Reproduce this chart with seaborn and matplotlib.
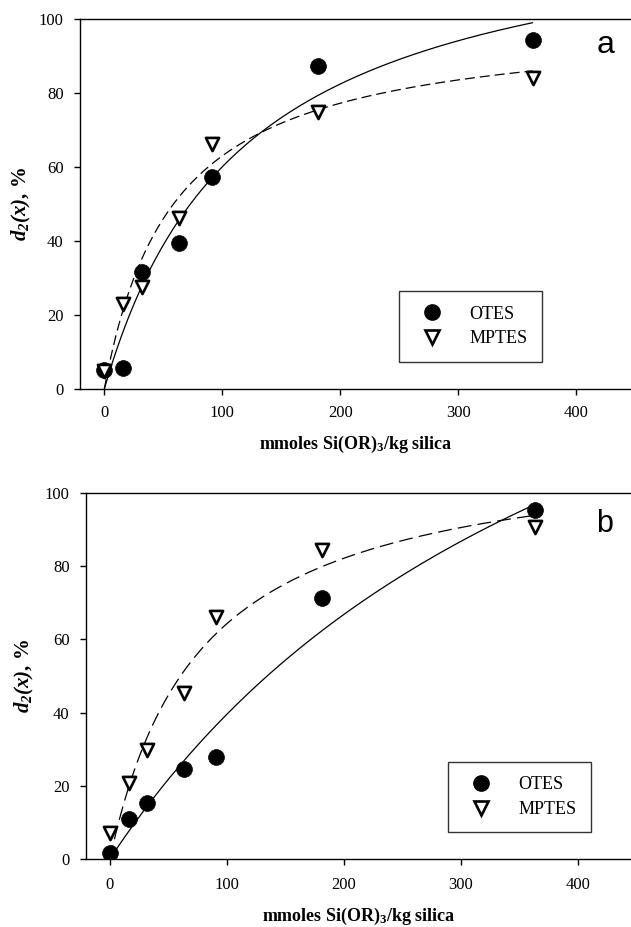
import numpy as np
import pandas as pd
import matplotlib
matplotlib.use("Agg")
import matplotlib.pyplot as plt
import seaborn as sns
from matplotlib.lines import Line2D

sns.set_theme(style="white")
plt.rcParams['font.family'] = ['Liberation Serif', 'DejaVu Serif']
plt.rcParams['mathtext.fontset'] = 'custom'
plt.rcParams['mathtext.rm'] = 'Liberation Serif'
plt.rcParams['mathtext.it'] = 'Liberation Serif:italic'
plt.rcParams['mathtext.bf'] = 'Liberation Serif:bold'
plt.rcParams['mathtext.bfit'] = 'Liberation Serif:italic:bold'
for k in ['text.color', 'axes.labelcolor', 'xtick.color', 'ytick.color', 'axes.edgecolor']:
    plt.rcParams[k] = 'black'

# ---- data ----
x_loading = [0, 16, 32, 63, 91, 181, 363]

a_otes = [5.1, 5.8, 31.5, 39.5, 57.2, 87.2, 94.3]
a_mptes = [4.9, 22.9, 27.6, 46.1, 66.2, 74.9, 84.0]
b_otes = [1.5, 10.9, 15.2, 24.5, 27.9, 71.3, 95.3]
b_mptes = [6.9, 20.6, 29.7, 45.3, 66.2, 84.6, 90.9]

# Langmuir-type fit parameters y = A*x/(B+x)
fit_a_otes = (131.4, 118.8)
fit_a_mptes = (99.8, 58.4)
fit_b_otes = (216.0, 446.0)
fit_b_mptes = (113.9, 77.0)

series_names = ["OTES", "MPTES"]
x_ticks = [0, 100, 200, 300, 400]
y_ticks = [0, 20, 40, 60, 80, 100]

fig = plt.figure(figsize=(6.31, 9.27), dpi=100)
ax1 = fig.add_axes([80/631, 1-389/927, 1-80/631, (389-19)/927])
ax2 = fig.add_axes([86/631, 1-858.7/927, 1-86/631, (858.7-493.3)/927])

def draw(ax, otes, mptes, fo, fm, xlim, label, label_pos, legend_anchor, dashes, pads):
    df = pd.DataFrame({"x": x_loading * 2,
                       "y": otes + mptes,
                       "s": [series_names[0]] * len(otes) + [series_names[1]] * len(mptes)})
    xc = np.linspace(0, max(x_loading), 300)
    curves = pd.DataFrame({"x": np.concatenate([xc, xc]),
                           "y": np.concatenate([fo[0]*xc/(fo[1]+xc), fm[0]*xc/(fm[1]+xc)]),
                           "s": [series_names[0]]*len(xc) + [series_names[1]]*len(xc)})
    sns.lineplot(data=curves[curves.s == "OTES"], x="x", y="y", color="black", lw=0.9, ax=ax, legend=False)
    sns.lineplot(data=curves[curves.s == "MPTES"], x="x", y="y", color="black", lw=0.9, ax=ax,
                 legend=False)
    ax.lines[-1].set_dashes(dashes)
    d1 = df[df.s == "OTES"]
    d2 = df[df.s == "MPTES"]
    sns.scatterplot(data=d1, x="x", y="y", marker="o", s=130, color="black", edgecolor="black",
                    linewidth=0.5, ax=ax, legend=False, zorder=5)
    sns.scatterplot(data=d2, x="x", y="y", marker="v", s=90, facecolor="white", edgecolor="black",
                    linewidth=1.9, ax=ax, legend=False, zorder=6)
    ax.set_xlim(*xlim)
    ax.set_ylim(0, 100)
    ax.set_xticks(x_ticks)
    ax.set_yticks(y_ticks)
    ax.spines["right"].set_visible(False)
    for s in ["left", "top", "bottom"]:
        ax.spines[s].set_color("black")
        ax.spines[s].set_linewidth(1.0)
    ax.tick_params(axis="both", which="both", direction="out", length=4.3, width=1, colors="black",
                   labelsize=12, left=True, bottom=True)
    ax.tick_params(axis="x", pad=pads[0])
    ax.tick_params(axis="y", pad=7.5)
    ax.set_xlabel(r"mmoles Si(OR)$_\mathbf{3}$/kg silica", fontsize=13, fontweight="bold",
                  labelpad=pads[1])
    ax.set_ylabel(r"$\mathbfit{d}_{\mathbfit{2}}\mathbfit{(x)}$, %", fontsize=15, fontweight="bold",
                  labelpad=pads[2])
    ax.text(label_pos[0], label_pos[1], label, transform=ax.transAxes, fontsize=label_pos[2],
            family="Liberation Sans", ha="center", va="baseline")
    h = [Line2D([], [], marker="o", ls="", color="black", markersize=11),
         Line2D([], [], marker="v", ls="", markerfacecolor="white", markeredgecolor="black",
                markeredgewidth=1.9, markersize=9.5)]
    leg = ax.legend(h, series_names, loc="lower left", bbox_to_anchor=legend_anchor, frameon=True,
                    fancybox=False, edgecolor="black", fontsize=13, borderpad=0.8, labelspacing=0.42,
                    handletextpad=1.1, borderaxespad=0, handlelength=2.0)
    leg.get_frame().set_linewidth(1.0)

draw(ax1, a_otes, a_mptes, fit_a_otes, fit_a_mptes, (-20.6, 446.4), "a",
     (0.953, 0.908, 23), ((399-80)/551, (389-361.7)/370), (8, 4), (7, 9.5, 4))
draw(ax2, b_otes, b_mptes, fit_b_otes, fit_b_mptes, (-20.5, 445.3), "b",
     (0.952, 0.894, 22), ((448.3-86)/545, (858.7-832.3)/365.4), (11, 5), (9, 9.5, 6))

fig.savefig("out.png", dpi=100)
